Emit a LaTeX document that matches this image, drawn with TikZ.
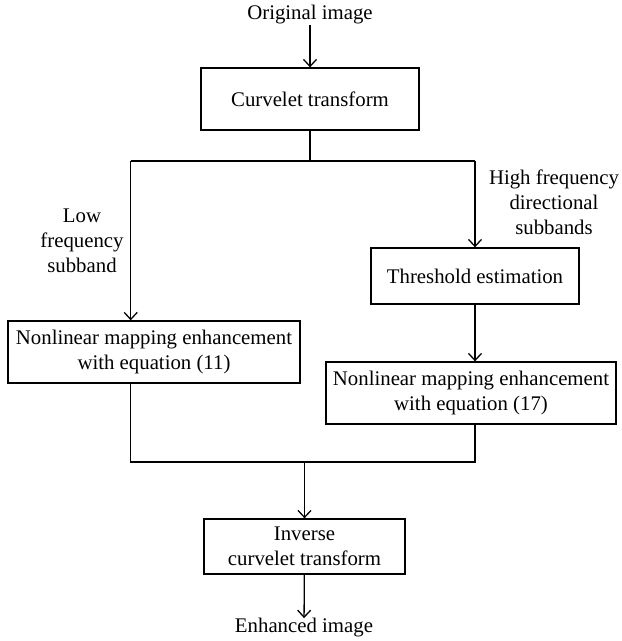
\documentclass[tikz,border=0pt]{standalone}
\usepackage{fontspec}
\setmainfont{Liberation Serif}
\usetikzlibrary{arrows.meta, positioning, calc}

\begin{document}
\begin{tikzpicture}[
    x=0.5pt, y=-0.5pt,
    every node/.style={font=\fontsize{10.4}{12.5}\selectfont},
    stage/.style={rectangle, draw=black, line width=0.65pt, fill=white, align=center, inner sep=1.5pt},
    label text/.style={align=center, inner sep=0pt},
    arrow/.style={-{Straight Barb[length=3.5pt, width=6.5pt]}, line width=0.65pt},
    link/.style={line width=0.65pt},
]
\useasboundingbox (0,0) rectangle (621,641);

% Nodes
\node[label text] (orig) at (310,15) {Original image};
\node[stage, minimum width=109pt, minimum height=31pt] (curv) at (310,99) {Curvelet transform};
\node[stage, minimum width=104pt, minimum height=28pt] (thr) at (475,276) {Threshold estimation};
\node[stage, minimum width=146pt, minimum height=31pt] (lowmap) at (154,352) {Nonlinear mapping enhancement\\with equation (11)};
\node[stage, minimum width=145pt, minimum height=31pt] (highmap) at (471,393) {Nonlinear mapping enhancement\\with equation (17)};
\node[stage, minimum width=100.5pt, minimum height=27.5pt] (inv) at (304.5,546.5) {Inverse\\curvelet transform};
\node[label text] (enh) at (304,628) {Enhanced image};

% Branch labels
\node[label text] (lowlbl) at (82,241) {Low\\frequency\\subband};
\node[label text] (highlbl) at (554,202) {High frequency\\directional\\subbands};

% Junctions
\coordinate (splitL) at (130.7,161);
\coordinate (splitR) at (475,161);
\coordinate (mergeL) at (130.7,462);
\coordinate (mergeR) at (475,462);

% Arrows
\draw[arrow] (orig) -- (curv);
\draw[link] (curv.south) -- (curv.south |- splitL);
\draw[link] (splitL) -- (splitR);
\draw[arrow] (splitL) -- (splitL |- lowmap.north);
\draw[arrow] (splitR) -- (splitR |- thr.north);
\draw[arrow] (thr.south) -- (thr.south |- highmap.north);
\draw[link] (splitL |- lowmap.south) -- (mergeL) -- (mergeR) -- (mergeR |- highmap.south);
\draw[arrow] (inv.north |- mergeL) -- (inv.north);
\draw[arrow] (inv) -- (enh);

\end{tikzpicture}
\end{document}
